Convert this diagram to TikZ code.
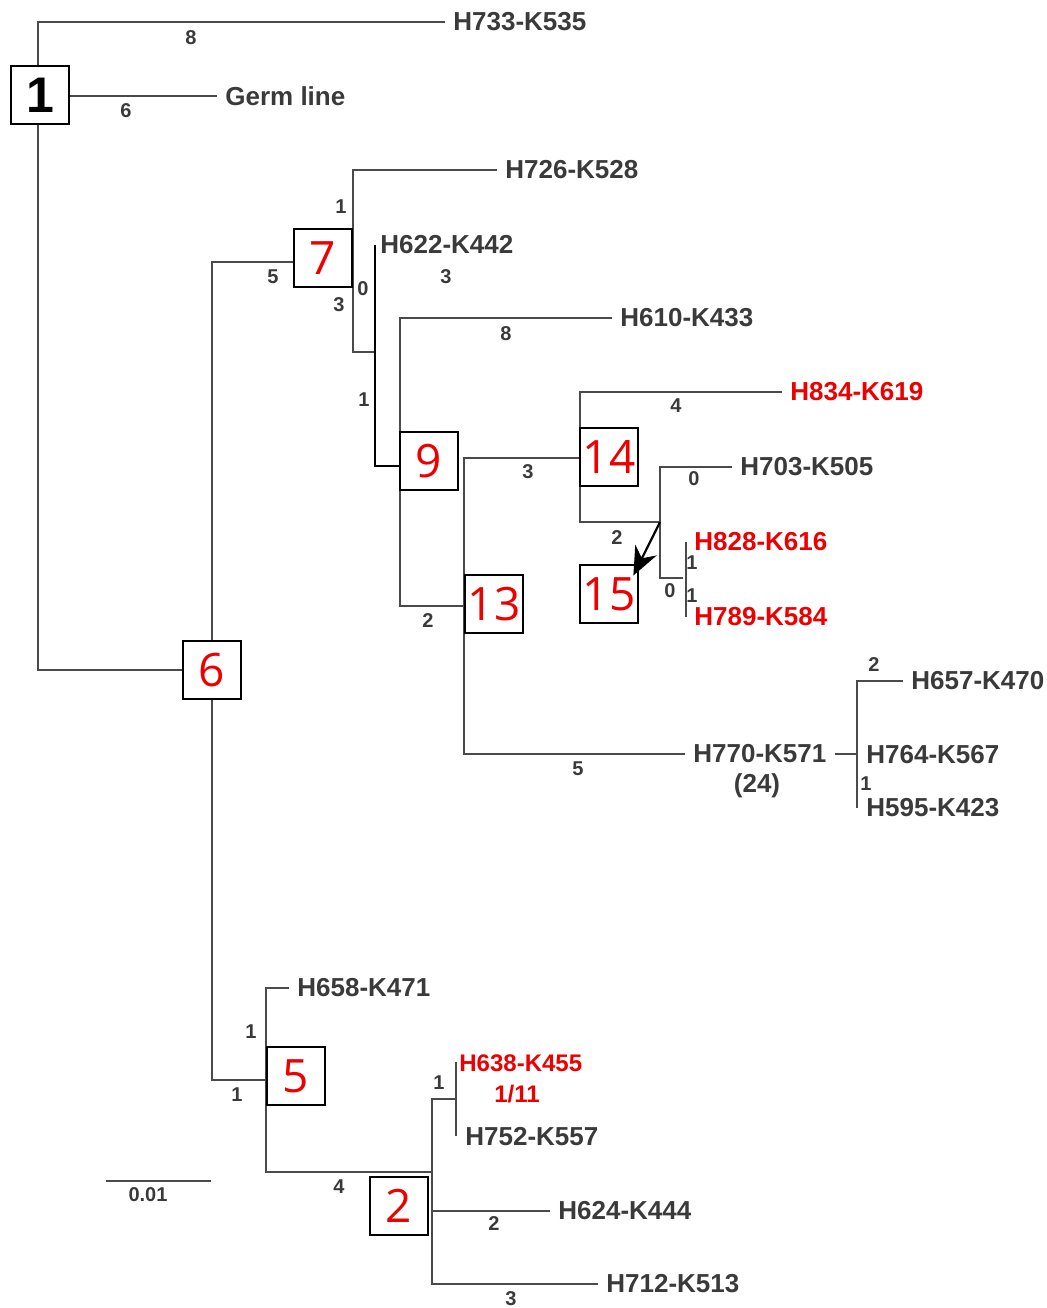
\documentclass[tikz,border=0pt]{standalone}
\usepackage{fontspec}
\setmainfont{Liberation Sans}
\newfontfamily\stagefont{Open Sans}
\usetikzlibrary{arrows.meta,calc}
\definecolor{TRInk}{HTML}{3A3A3A}
\definecolor{TRLine}{HTML}{4A4A4A}
\definecolor{TRRed}{HTML}{EE0000}
\tikzset{
  branch/.style={TRLine,line width=1.25pt},
  trunk/.style={black,line width=1.35pt},
  pointer/.style={-{Stealth[length=5mm,width=4.2mm]},black,line width=1.1pt,shorten >=-1pt},
  clone/.style={text=TRInk,font=\fontsize{13}{15}\selectfont\bfseries,
                inner xsep=4pt,inner ysep=0pt,anchor=west},
  clonered/.style={clone,text=TRRed},
  mut/.style={text=TRInk,font=\fontsize{10}{12}\selectfont\bfseries,inner sep=0pt},
  stage/.style={draw=black,line width=1.25pt,fill=white,minimum width=29pt,
                minimum height=29pt,inner sep=0pt,text=TRRed,
                font=\stagefont\fontsize{23}{25}\selectfont},
}

\begin{document}
\begin{tikzpicture}[x=0.5pt,y=-0.5pt]
  \useasboundingbox (0,0) rectangle (1047,1308);

  % branch points
  \coordinate (r1) at (38,96);
  \coordinate (n6) at (212,670);
  \coordinate (b7) at (353,262);
  \coordinate (c7) at (375,352);
  \coordinate (b9) at (400,466);
  \coordinate (b13) at (464,606);
  \coordinate (b14) at (580,458);
  \coordinate (b15) at (660,522);
  \coordinate (b16) at (683,578);
  \coordinate (b17) at (857,754);
  \coordinate (b17e) at (857,808);
  \coordinate (b5) at (266,1080);
  \coordinate (b2) at (432,1172);
  \coordinate (b3) at (456,1099);
  \coordinate (b3t) at (456,1062);
  \coordinate (b3b) at (456,1136);
  \coordinate (sb0) at (106,1181);
  \coordinate (sb1) at (211,1181);

  % clones
  \node[clone] (h733) at (445,22) {H733-K535};
  \node[clone] (germ) at (217,96) {Germ line};
  \node[clone] (h726) at (497,170) {H726-K528};
  \node[clone,inner xsep=2.5pt] (h622) at (375,245) {H622-K442};
  \node[clone] (h610) at (612,318) {H610-K433};
  \node[clonered] (h834) at (782,392) {H834-K619};
  \node[clone] (h703) at (732,467) {H703-K505};
  \node[clonered] (h828) at (686,542) {H828-K616};
  \node[clonered] (h789) at (686,617) {H789-K584};
  \node[clone] (h770) at (685,754) {H770-K571};
  \node[clone] (h657) at (903,681) {H657-K470};
  \node[clone] (h764) at (858,755) {H764-K567};
  \node[clone] (h595) at (858,808) {H595-K423};
  \node[clone] (h658) at (289,988) {H658-K471};
  \node[clonered,font=\fontsize{12}{14}\selectfont\bfseries,inner xsep=1.5pt] (h638) at (456,1063) {H638-K455};
  \node[clone] (h752) at (457,1137) {H752-K557};
  \node[clone] (h624) at (550,1211) {H624-K444};
  \node[clone] (h712) at (598,1284) {H712-K513};
  \node[clone,anchor=center,inner sep=0pt] (n24) at (757,786) {(24)};
  \node[clonered,anchor=center,inner sep=0pt,font=\fontsize{12}{14}\selectfont\bfseries] (f11) at (517,1094) {1/11};

  % tree
  \draw[branch] (r1) |- (h733.west);
  \draw[branch] (r1) -- (germ.west);
  \draw[branch] (r1) |- (n6);
  \draw[branch] (n6) |- (b7);
  \draw[branch] (b7) |- (h726.west);
  \draw[branch] (b7) |- (c7);
  \draw[trunk] (h622.west) |- (b9);
  \draw[branch] (b9) |- (h610.west);
  \draw[branch] (b9) |- (b13);
  \draw[branch] (b13) |- (b14);
  \draw[branch] (b13) |- (h770.west);
  \draw[branch] (b14) |- (h834.west);
  \draw[branch] (b14) |- (b15);
  \draw[branch] (b15) |- (h703.west);
  \draw[branch] (b15) |- (b16);
  \draw[branch] (h828.west) -- (h789.west);
  \draw[branch] (h770.east) -- (b17);
  \draw[branch] (b17) |- (h657.west);
  \draw[branch] (b17) -- (b17e);
  \draw[branch] (n6) |- (b5);
  \draw[branch] (b5) |- (h658.west);
  \draw[branch] (b5) |- (b2);
  \draw[branch] (b2) |- (b3);
  \draw[branch] (b2) |- (h624.west);
  \draw[branch] (b2) |- (h712.west);
  \draw[branch] (b3t) -- (b3b);
  \draw[branch] (sb0) -- (sb1);

  % stages
  \node[stage,text=black,font=\fontsize{25}{27}\selectfont\bfseries] (s1) at (40,95) {1};
  \node[stage] (s7) at (323,258) {7};
  \node[stage] (s9) at (429,461) {9};
  \node[stage] (s14) at (609,457) {14};
  \node[stage] (s15) at (609,594) {15};
  \node[stage] (s13) at (494,604) {13};
  \node[stage] (s6) at (212,670) {6};
  \node[stage] (s5) at (296,1076) {5};
  \node[stage] (s2) at (399,1206) {2};
  \draw[pointer] (b15) -- ($(s15.north east)+(-5,10)$);

  % mutation counts
  \node[mut] (m733) at (191,38) {8};
  \node[mut] (mgerm) at (126,111) {6};
  \node[mut] (m7) at (273,277) {5};
  \node[mut] (m726) at (341,207) {1};
  \node[mut] (m7b) at (339,305) {3};
  \node[mut] (m622a) at (363,289) {0};
  \node[mut] (m622b) at (446,277) {3};
  \node[mut] (m9) at (364,400) {1};
  \node[mut] (m610) at (506,334) {8};
  \node[mut] (m13) at (428,621) {2};
  \node[mut] (m14) at (528,472) {3};
  \node[mut] (m770) at (578,769) {5};
  \node[mut] (m834) at (676,406) {4};
  \node[mut] (m15) at (617,538) {2};
  \node[mut] (m703) at (694,479) {0};
  \node[mut] (m16) at (670,591) {0};
  \node[mut] (m828) at (692,563) {1};
  \node[mut] (m789) at (692,596) {1};
  \node[mut] (m657) at (874,665) {2};
  \node[mut] (m595) at (866,784) {1};
  \node[mut] (m5) at (237,1095) {1};
  \node[mut] (m658) at (251,1032) {1};
  \node[mut] (m2) at (339,1187) {4};
  \node[mut] (m638) at (439,1083) {1};
  \node[mut] (m624) at (494,1224) {2};
  \node[mut] (m712) at (511,1299) {3};
  \node[mut] (scale) at (148,1195) {0.01};
\end{tikzpicture}
\end{document}
